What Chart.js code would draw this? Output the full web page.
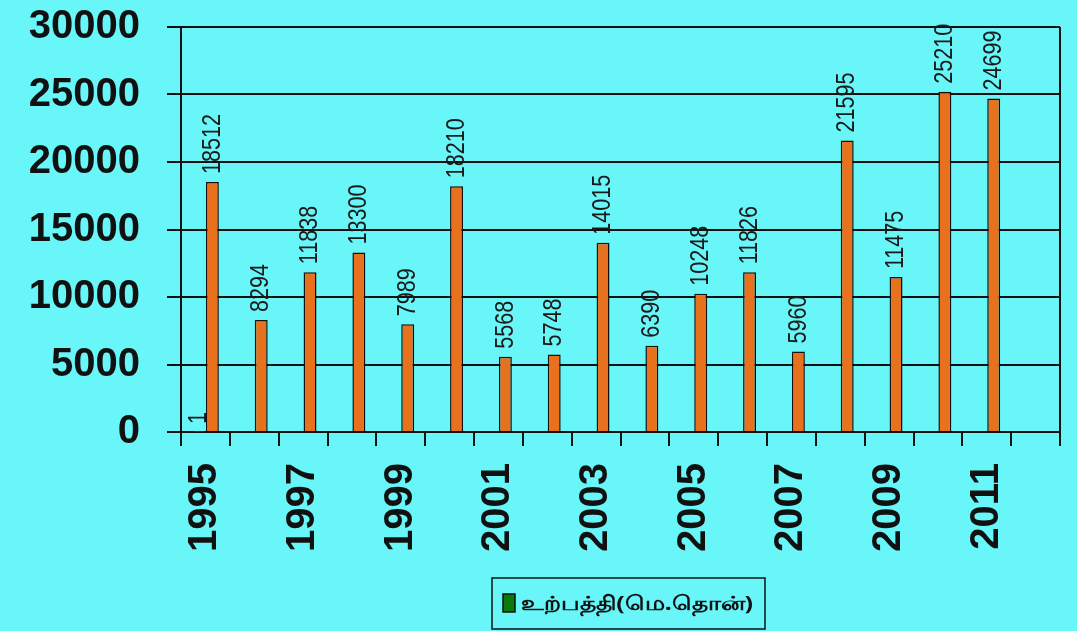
<!DOCTYPE html>
<html>
<head>
<meta charset="utf-8">
<script src="https://cdn.jsdelivr.net/npm/chart.js@4/dist/chart.umd.min.js"></script>
<style>
  body { margin: 0; background: #68f6f8; }
  canvas { display: block; }
</style>
</head>
<body>
<canvas id="chart" width="1077" height="631"></canvas>
<script>
// 연도 (마지막 2012 칸은 비어 있음)
const years = ["1995", "1996", "1997", "1998", "1999", "2000", "2001", "2002", "2003",
  "2004", "2005", "2006", "2007", "2008", "2009", "2010", "2011", "2012"];
// 범례에 나오는 계열 (1995 에만 1)
const legendSeries = [1, null, null, null, null, null, null, null, null,
  null, null, null, null, null, null, null, null, null];
// 주황 막대 값
const production = [18512, 8294, 11838, 13300, 7989, 18210, 5568, 5748, 14015,
  6390, 10248, 11826, 5960, 21595, 11475, 25210, 24699, null];
const legendLabel = "உற்பத்தி(மெ.தொன்)";
const yTicks = [0, 5000, 10000, 15000, 20000, 25000, 30000];

// 막대 위 세로 숫자
const barLabels = {
  id: "barLabels",
  afterDatasetsDraw(chart) {
    const ctx = chart.ctx;
    chart.data.datasets.forEach((ds, i) => {
      chart.getDatasetMeta(i).data.forEach((bar, j) => {
        const v = ds.data[j];
        if (v === null || v === undefined) return;
        ctx.save();
        ctx.translate(bar.x, bar.y - 8);
        ctx.rotate(-Math.PI / 2);
        ctx.scale(0.83, 1);
        ctx.font = '26px "Liberation Sans"';
        ctx.fillStyle = "#1a1a1a";
        ctx.textAlign = "left";
        ctx.textBaseline = "middle";
        ctx.fillText(String(v), 0, 0);
        ctx.restore();
      });
    });
  },
};

// 오른쪽 테두리 + 범례 상자
const frame = {
  id: "frame",
  afterDraw(chart) {
    const ctx = chart.ctx;
    const a = chart.chartArea;
    ctx.save();
    ctx.strokeStyle = "#111";
    ctx.lineWidth = 2;
    ctx.beginPath();
    ctx.moveTo(a.right, a.top);
    ctx.lineTo(a.right, a.bottom + 14);
    ctx.stroke();

    // legend
    ctx.lineWidth = 1.5;
    ctx.strokeRect(492, 578, 273, 51);
    ctx.fillStyle = "#0a7a0a";
    ctx.fillRect(503, 594, 12, 18);
    ctx.strokeRect(503, 594, 12, 18);
    ctx.fillStyle = "#111";
    ctx.font = 'bold 20px "Noto Sans", sans-serif';
    ctx.textAlign = "left";
    ctx.textBaseline = "middle";
    const w = ctx.measureText(legendLabel).width;
    ctx.translate(521, 604);
    ctx.scale(232 / w, 1);
    ctx.fillText(legendLabel, 0, 0);
    ctx.restore();
  },
};

const c = document.getElementById("chart");
new Chart(c, {
  type: "bar",
  data: {
    labels: years,
    datasets: [
      {
        label: legendLabel,
        data: legendSeries,
        backgroundColor: "#0a7a0a",
        borderColor: "#111",
        borderWidth: 1.5,
        categoryPercentage: 0.57,
        barPercentage: 0.93,
      },
      {
        label: "",
        data: production,
        backgroundColor: "#e8711e",
        borderColor: "#111",
        borderWidth: 1.5,
        categoryPercentage: 0.57,
        barPercentage: 0.93,
      },
    ],
  },
  options: {
    responsive: false,
    animation: false,
    layout: { padding: { top: 27, right: 17, left: 0, bottom: 0 } },
    plugins: {
      legend: { display: false },
      tooltip: { enabled: false },
    },
    scales: {
      x: {
        afterFit: (s) => {
          s.height = 199;
          s.paddingLeft = 0;
          s.paddingRight = 0;
        },
        grid: {
          offset: true,
          drawOnChartArea: false,
          tickLength: 14,
          tickColor: "#111",
          lineWidth: 2,
        },
        border: { color: "#111", width: 2 },
        ticks: {
          autoSkip: false,
          maxRotation: 90,
          minRotation: 90,
          padding: 17,
          color: "#111",
          font: { family: "Liberation Sans", size: 40, weight: "bold" },
          callback: (v, i) => (i % 2 === 0 ? years[i] : ""),
        },
      },
      y: {
        min: 0,
        max: 30000,
        afterFit: (s) => {
          s.width = 181;
          s.paddingTop = 0;
          s.paddingBottom = 0;
        },
        afterBuildTicks: (s) => { s.ticks = yTicks.map((v) => ({ value: v })); },
        grid: {
          color: "#111",
          lineWidth: 2,
          tickLength: 14,
        },
        border: { color: "#111", width: 2 },
        ticks: {
          padding: 27,
          color: "#111",
          font: { family: "Liberation Sans", size: 40, weight: "bold" },
          callback: (v) => String(v),
        },
      },
    },
  },
  plugins: [barLabels, frame],
});
</script>
</body>
</html>
